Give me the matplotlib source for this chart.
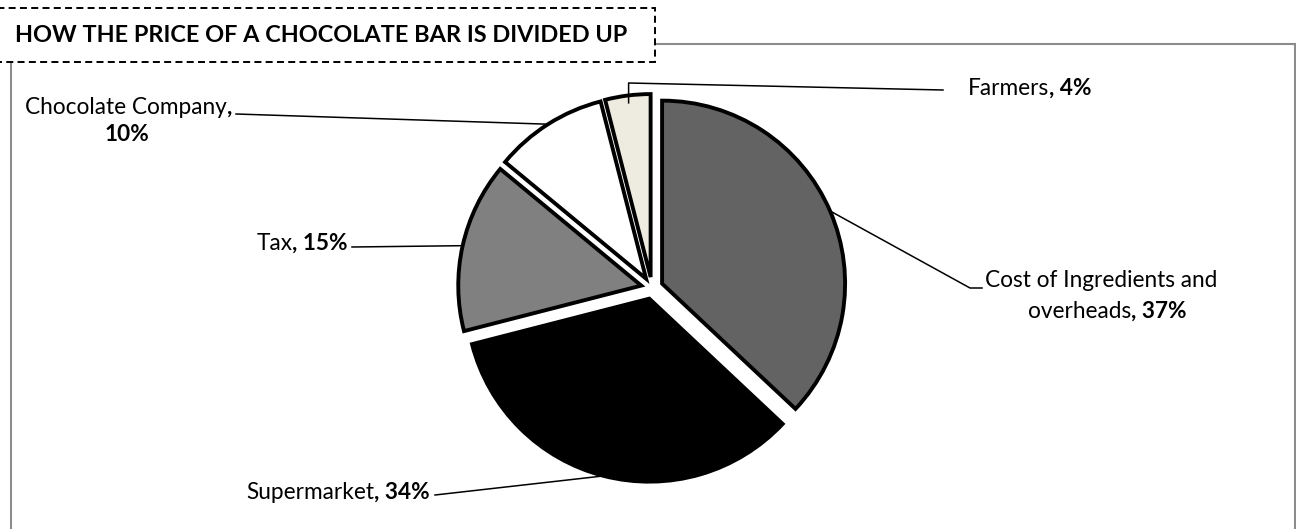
import matplotlib.pyplot as plt
import matplotlib.patches as mpatches
import numpy as np

# data
categories = ['Cost of Ingredients and\noverheads', 'Supermarket', 'Tax',
              'Chocolate Company', 'Farmers']
shares = [37, 34, 15, 10, 4]
slice_colors = ['#636363', '#000000', '#808080', '#ffffff', '#eeebe0']
title = 'HOW THE PRICE OF A CHOCOLATE BAR IS DIVIDED UP'

W, H = 1296, 529
plt.rcParams['font.family'] = ['Lato', 'DejaVu Sans']

fig = plt.figure(figsize=(W / 100, H / 100), dpi=100)
ax = fig.add_axes([0, 0, 1, 1])


def yd(y):
    # image row -> data y
    return H - y


wedges, _ = ax.pie(shares, colors=slice_colors, startangle=90,
                   counterclock=False, explode=[11] * len(shares),
                   radius=183, center=(652, yd(288)),
                   wedgeprops=dict(edgecolor='black', linewidth=2.8))
ax.set_xlim(0, W)
ax.set_ylim(0, H)
ax.set_aspect('auto')
ax.axis('off')


def anchor(w, frac=1.0):
    m = np.deg2rad((w.theta1 + w.theta2) / 2)
    cx, cy = w.center
    return cx + frac * w.r * np.cos(m), cy + frac * w.r * np.sin(m)


# outer frame of the chart area
ax.add_patch(mpatches.Rectangle((11, yd(560)), 1284, 560 - 44, fill=False,
                                edgecolor='#8c8c8c', linewidth=1.5,
                                clip_on=False, zorder=0))

# title box
ax.add_patch(mpatches.Rectangle((-5, yd(62)), 660, 54, facecolor='white',
                                edgecolor='black', linewidth=1.4,
                                linestyle=(0, (3.6, 2.2)), clip_on=False,
                                zorder=5))
ax.text(15, yd(36), title, fontsize=16.9, fontweight='bold', ha='left',
        va='center', zorder=6)

fs = 16.3
lk = dict(color='black', linewidth=1.1, zorder=3)


def two_part(x, y, normal, bold, ha='left'):
    # normal text followed by bold ", xx%" on one baseline
    if ha == 'left':
        t = ax.text(x, y, normal, fontsize=fs, ha='left', va='baseline')
        ax.annotate(bold, xy=(1, y), xycoords=(t, 'data'), fontsize=fs,
                    fontweight='bold', ha='left', va='baseline')
    else:
        b = ax.text(x, y, bold, fontsize=fs, fontweight='bold', ha='right',
                    va='baseline')
        ax.annotate(normal, xy=(0, y), xycoords=(b, 'data'), fontsize=fs,
                    ha='right', va='baseline')


# Cost of ingredients
ax_, ay_ = anchor(wedges[0])
ax.plot([ax_, 970, 982], [ay_, yd(288), yd(288)], **lk)
ax.text(1101, yd(287), 'Cost of Ingredients and', fontsize=fs, ha='center',
        va='baseline')
two_part(1028, yd(318), 'overheads', f', {shares[0]}%')

# Supermarket
ax_, ay_ = anchor(wedges[1])
ax.plot([ax_, 435], [ay_, yd(495)], **lk)
two_part(430, yd(499), 'Supermarket', f', {shares[1]}%', ha='right')

# Tax
ax_, ay_ = anchor(wedges[2])
ax.plot([ax_, 352], [ay_, yd(247)], **lk)
two_part(348, yd(250), 'Tax', f', {shares[2]}%', ha='right')

# Chocolate company
ax_, ay_ = anchor(wedges[3])
ax.plot([ax_, 236], [ay_, yd(114)], **lk)
two_part(232, yd(114), 'Chocolate Company', ',', ha='right')
ax.text(127, yd(141), f'{shares[3]}%', fontsize=fs, fontweight='bold',
        ha='center', va='baseline')

# Farmers
ax_, ay_ = anchor(wedges[4], 0.96)
ax.plot([ax_, ax_, 943], [ay_, yd(83), yd(90)], **lk)
two_part(968, yd(95), 'Farmers', f', {shares[4]}%')

fig.savefig('out.png', dpi=100)
